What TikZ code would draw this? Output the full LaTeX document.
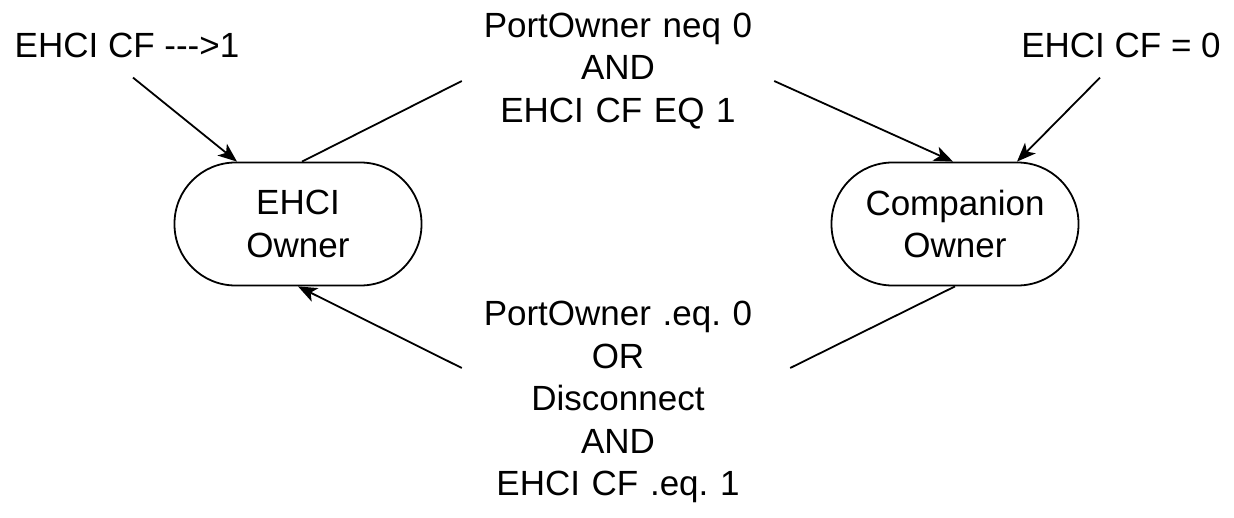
\documentclass[tikz,border=0pt]{standalone}
\usepackage{fontspec}
\setmainfont{Liberation Sans}
\usetikzlibrary{arrows.meta}
\frenchspacing
\begin{document}
\begin{tikzpicture}[x=1pt,y=-1pt,
  font=\fontsize{35}{42.5}\selectfont,
  owner/.style={draw,line width=1.8pt,rounded corners=61pt,minimum width=247pt,minimum height=123pt,align=center},
  lbl/.style={inner sep=0pt,align=center},
  trans/.style={line width=1.8pt},
  transarr/.style={trans,-{Stealth[length=19pt,width=15pt,inset=5pt]}}]
\useasboundingbox (0,0) rectangle (1234,517);

\node[owner] (ehci) at (298,224) {EHCI\\Owner};
\node[owner] (comp) at (955,224) {Companion\\Owner};

\node[lbl] (cfone) at (127,45) {EHCI CF {-}{-}{-}>1};
\node[lbl] (cfzero) at (1121,45) {EHCI CF = 0};
\node[lbl,text width=312pt] (fwd) at (618,71) {PortOwner neq 0\\AND\\EHCI CF EQ 1};
\node[lbl,text width=312pt] (back) at (618,402) {PortOwner .eq. 0\\OR\\Disconnect\\AND\\EHCI CF .eq. 1};

\draw[transarr] ([xshift=6pt,yshift=-20pt]cfone.south) -- ([xshift=-61pt]ehci.north);
\draw[transarr] ([xshift=-21pt,yshift=-20pt]cfzero.south) -- ([xshift=62pt]comp.north);

\draw[trans] ([xshift=4pt]ehci.north) -- ([yshift=-10pt]fwd.west);
\draw[transarr] ([yshift=-10pt]fwd.east) -- ([xshift=-2pt]comp.north);

\draw[trans] (comp.south) -- ([xshift=16pt,yshift=34pt]back.east);
\draw[transarr] ([yshift=34pt]back.west) -- (ehci.south);
\end{tikzpicture}
\end{document}
